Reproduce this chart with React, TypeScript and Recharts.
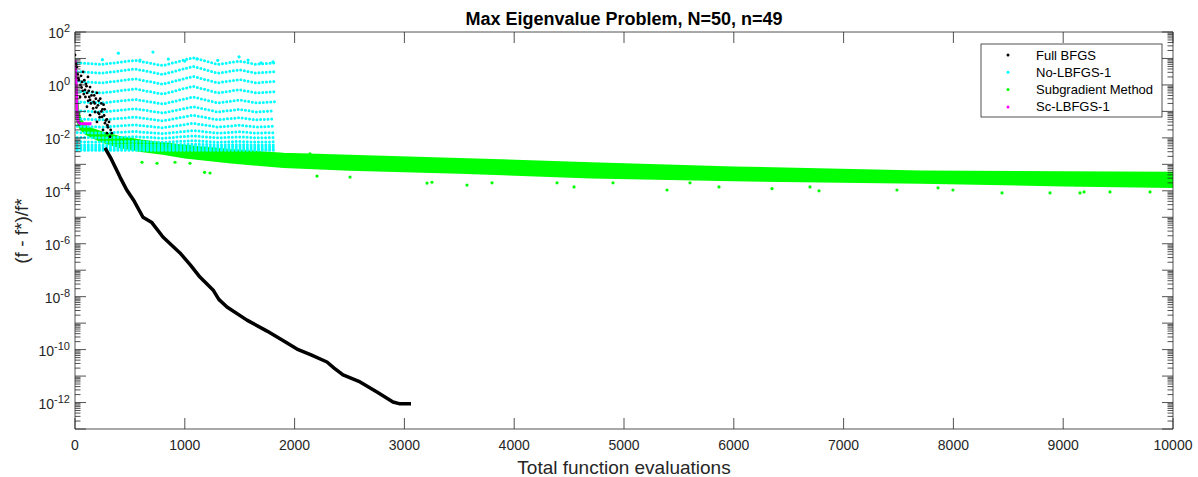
import { ComposedChart, Line, Area, Scatter, XAxis, YAxis } from "recharts";

// axis ticks
const xTicks = [0, 1000, 2000, 3000, 4000, 5000, 6000, 7000, 8000, 9000, 10000];
const yMajorTicks = [1e-13, 1e-12, 1e-11, 1e-10, 1e-9, 1e-8, 1e-7, 1e-6, 1e-5, 1e-4, 1e-3, 1e-2, 1e-1, 1, 10, 100];
const yLabelExps = [2, 0, -2, -4, -6, -8, -10, -12];
const minorSteps = [2, 3, 4, 5, 6, 7, 8, 9];
const yAllTicks = [
  ...yMajorTicks,
  ...yMajorTicks.slice(0, -1).flatMap((m) => minorSteps.map((s) => s * m)),
].sort((a, b) => a - b);

// Full BFGS: noisy start (dots) then the dense descending run
const bfgsDotsX = [0, 18, 73, 118, 64, 137, 200, 91, 46, 137, 209, 109, 182, 246, 137, 200, 273, 255, 291, 319, 30, 100, 160, 230, 250, 170, 80, 290, 220, 150, 60, 190, 120, 260, 300, 310,
  10, 25, 35, 50, 70, 95, 110, 130, 145, 165, 180, 195, 210, 225, 240, 265, 280, 295, 55, 85, 105, 125, 175, 215, 240, 270, 325, 335];
const bfgsDotsY = [13.5, 4.8, 3.1, 2.0, 1.3, 0.83, 0.5, 0.65, 0.35, 0.27, 0.17, 0.15, 0.095, 0.062, 0.072, 0.04, 0.036, 0.02, 0.015, 0.011, 1.8, 1.1, 0.55, 0.3, 0.12, 0.23, 0.45, 0.05, 0.08, 0.4, 0.8, 0.3, 0.25, 0.18, 0.025, 0.04,
  6, 2.5, 1.5, 1.0, 0.6, 0.35, 0.5, 0.35, 0.2, 0.13, 0.2, 0.14, 0.09, 0.06, 0.1, 0.07, 0.045, 0.03, 2.2, 1.5, 0.9, 0.6, 0.4, 0.25, 0.2, 0.12, 0.02, 0.015];
const bfgsX = [273, 330, 410, 470, 540, 619, 700, 801, 956, 1050, 1138, 1257, 1310, 1384, 1566, 1749, 1894, 2022, 2150, 2295, 2360, 2441, 2596, 2750, 2896, 2960, 3060];
const bfgsY = [4.2e-3, 1.6e-3, 3.3e-4, 1.1e-4, 4.0e-5, 1.0e-5, 6.3e-6, 1.8e-6, 4.5e-7, 1.6e-7, 5.5e-8, 1.8e-8, 7.9e-9, 4.1e-9, 1.3e-9, 5.0e-10, 2.2e-10, 1.05e-10, 6.3e-11, 3.4e-11, 2.0e-11, 1.1e-11, 6.0e-12, 2.5e-12, 1.05e-12, 8.9e-13, 8.9e-13];

// No-LBFGS-1: rows of dots
const cyanX = [20, 250, 546, 800, 1075, 1300, 1500, 1650, 1820];
const cyanRows = [
  [6.8, 6.0, 8.5, 5.4, 10.7, 6.0, 7.9, 6.0, 6.8],
  [3.2, 2.8, 4.0, 2.5, 5.0, 2.8, 3.7, 2.8, 3.2],
  [1.35, 1.2, 1.7, 1.07, 2.1, 1.2, 1.6, 1.2, 1.35],
  [0.56, 0.5, 0.71, 0.45, 0.89, 0.5, 0.66, 0.5, 0.56],
  [0.23, 0.21, 0.285, 0.19, 0.35, 0.21, 0.27, 0.21, 0.23],
  [0.105, 0.095, 0.126, 0.087, 0.151, 0.095, 0.12, 0.095, 0.105],
  [0.052, 0.048, 0.061, 0.044, 0.072, 0.048, 0.058, 0.048, 0.052],
  [0.0275, 0.0257, 0.031, 0.024, 0.0355, 0.0257, 0.03, 0.0257, 0.0275],
  [0.0158, 0.0151, 0.0174, 0.0145, 0.019, 0.0151, 0.017, 0.0151, 0.0158],
  [0.0104, 0.01, 0.0111, 0.0097, 0.0119, 0.01, 0.0109, 0.01, 0.0104],
  [0.0071, 0.0069, 0.0074, 0.0068, 0.0078, 0.0069, 0.0073, 0.0069, 0.0071],
  [0.0054, 0.0054, 0.0056, 0.0053, 0.0058, 0.0054, 0.0055, 0.0054, 0.0054],
  [0.0045, 0.0045, 0.0046, 0.0044, 0.0047, 0.0045, 0.0046, 0.0045, 0.0045],
  [0.0038, 0.0038, 0.0039, 0.0038, 0.0039, 0.0038, 0.0038, 0.0038, 0.0038],
  [0.0034, 0.0034, 0.0034, 0.0034, 0.0034, 0.0034, 0.0034, 0.0034, 0.0034],
];
const cyanTopX = [395, 710, 1111, 1494, 592, 1576, 1694, 1803, 250, 1000, 850, 1300];
const cyanTopY = [15.8, 17.4, 9.5, 11.5, 8.7, 8.7, 6.8, 7.4, 9, 8.0, 9.5, 8.5];

// Subgradient Method: dense band (low/high) plus stray dots
const gradX = [10, 30, 50, 100, 150, 250, 400, 600, 800, 1000, 1400, 1900, 2500, 3500, 4700, 6000, 7700, 9000, 10000];
const gradHigh = [1.0, 0.1, 0.05, 0.028, 0.022, 0.016, 0.011, 0.0079, 0.0063, 0.005, 0.0035, 0.0025, 0.0021, 0.0016, 0.0011, 0.00076, 0.00054, 0.0005, 0.00048];
const gradLow = [0.063, 0.032, 0.022, 0.014, 0.011, 0.0071, 0.0045, 0.0032, 0.0025, 0.0018, 0.0012, 0.00079, 0.00063, 0.00048, 0.00032, 0.00025, 0.0002, 0.00016, 0.00014];
const gradDotsX = [610, 747, 911, 1047, 1230, 1180, 2204, 2505, 3206, 3251, 3570, 3798, 4390, 4545, 4900, 5392, 5601, 5865, 6348, 6694, 6776, 7486, 7860, 7996, 8443, 8880, 9153, 9190, 9426, 9791, 2140];
const gradDotsY = [1.2e-3, 1.1e-3, 1.2e-3, 1.1e-3, 4.7e-4, 5e-4, 3.6e-4, 3.3e-4, 1.95e-4, 2.1e-4, 1.65e-4, 2.0e-4, 2.0e-4, 1.4e-4, 2.0e-4, 1.07e-4, 2.0e-4, 1.4e-4, 1.2e-4, 1.4e-4, 1.0e-4, 1.07e-4, 1.3e-4, 1.07e-4, 8.3e-5, 8.3e-5, 8.3e-5, 9.1e-5, 9.1e-5, 9.1e-5, 2.5e-3];

// Sc-LBFGS-1
const scX = [2, 5, 8, 11, 14, 17, 20, 24, 30, 45, 80, 120, 150];
const scY = [8.7, 5, 2, 1, 0.4, 0.15, 0.08, 0.05, 0.04, 0.035, 0.034, 0.034, 0.034];

const legendItems = [
  { name: "Full BFGS", color: "#000000" },
  { name: "No-LBFGS-1", color: "#00ffff" },
  { name: "Subgradient Method", color: "#00ff00" },
  { name: "Sc-LBFGS-1", color: "#ff00ff" },
];

const axisColor = "#262626";
const font = "'Liberation Sans', Arial, Helvetica, sans-serif";

const pts = (xs: number[], ys: number[]) => xs.map((x, i) => ({ x, y: ys[i] }));

const decade = (v: number) => {
  const l = Math.log10(v);
  const e = Math.round(l);
  return { e, major: Math.abs(l - e) < 1e-6 };
};

function LeftTick(props: any) {
  const { x, y, payload } = props;
  const { e, major } = decade(payload.value);
  const len = major ? 11 : 5.5;
  return (
    <g>
      <line x1={x} x2={x + len} y1={y} y2={y} stroke={axisColor} strokeWidth={0.8} />
      {major && yLabelExps.includes(e) && (
        <text x={x - 5} y={y + 6} textAnchor="end" fontSize={14} fill={axisColor} fontFamily={font}>
          <tspan>10</tspan>
          <tspan dy={-6} fontSize={11}>{e}</tspan>
        </text>
      )}
    </g>
  );
}

function RightTick(props: any) {
  const { x, y, payload } = props;
  const { major } = decade(payload.value);
  const len = major ? 11 : 5.5;
  return <line x1={x} x2={x - len} y1={y} y2={y} stroke={axisColor} strokeWidth={0.8} />;
}

function BottomTick(props: any) {
  const { x, y, payload } = props;
  return (
    <g>
      <line x1={x} x2={x} y1={y} y2={y - 11} stroke={axisColor} strokeWidth={0.8} />
      <text x={x} y={y + 21} textAnchor="middle" fontSize={14} fill={axisColor} fontFamily={font}>
        {payload.value}
      </text>
    </g>
  );
}

function TopTick(props: any) {
  const { x, y } = props;
  return <line x1={x} x2={x} y1={y} y2={y + 11} stroke={axisColor} strokeWidth={0.8} />;
}

const dot = (color: string, r: number) => (p: any) => <circle cx={p.cx} cy={p.cy} r={r} fill={color} />;

const axisLine = { stroke: axisColor, strokeWidth: 0.8 };

export default function App() {
  return (
    <div style={{ position: "fixed", left: 0, top: 0, width: 1198, height: 477, background: "#fff" }}>
      <ComposedChart width={1198} height={477} margin={{ top: 31, right: 24, bottom: 47, left: 74 }}>
        <XAxis
          xAxisId="b"
          dataKey="x"
          type="number"
          domain={[0, 10000]}
          ticks={xTicks}
          interval={0}
          height={1}
          tickSize={0}
          tickMargin={0}
          tickLine={false}
          axisLine={axisLine}
          tick={BottomTick}
          allowDataOverflow
        />
        <XAxis
          xAxisId="t"
          orientation="top"
          dataKey="x"
          type="number"
          domain={[0, 10000]}
          ticks={xTicks}
          interval={0}
          height={1}
          tickSize={0}
          tickMargin={0}
          tickLine={false}
          axisLine={axisLine}
          tick={TopTick}
          allowDataOverflow
        />
        <YAxis
          yAxisId="l"
          dataKey="y"
          type="number"
          scale="log"
          domain={[1e-13, 100]}
          ticks={yAllTicks}
          interval={0}
          width={1}
          tickSize={0}
          tickMargin={0}
          tickLine={false}
          axisLine={axisLine}
          tick={LeftTick}
          allowDataOverflow
        />
        <YAxis
          yAxisId="r"
          orientation="right"
          dataKey="y"
          type="number"
          scale="log"
          domain={[1e-13, 100]}
          ticks={yAllTicks}
          interval={0}
          width={1}
          tickSize={0}
          tickMargin={0}
          tickLine={false}
          axisLine={axisLine}
          tick={RightTick}
          allowDataOverflow
        />

        {cyanRows.map((row, i) => (
          <Line
            key={"c" + i}
            xAxisId="b"
            yAxisId="l"
            data={pts(cyanX, row)}
            dataKey="y"
            type="linear"
            stroke="#00ffff"
            strokeWidth={3}
            strokeDasharray="0 3.7"
            strokeLinecap="round"
            dot={false}
            isAnimationActive={false}
          />
        ))}
        <Scatter
          xAxisId="b"
          yAxisId="l"
          data={pts(cyanTopX, cyanTopY)}
          dataKey="y"
          fill="#00ffff"
          shape={dot("#00ffff", 1.6)}
          isAnimationActive={false}
        />

        <Area
          xAxisId="b"
          yAxisId="l"
          data={gradX.map((x, i) => ({ x, r: [gradLow[i], gradHigh[i]] }))}
          dataKey="r"
          type="linear"
          stroke="#00ff00"
          strokeWidth={2}
          fill="#00ff00"
          fillOpacity={1}
          dot={false}
          activeDot={false}
          isAnimationActive={false}
        />
        <Scatter
          xAxisId="b"
          yAxisId="l"
          data={pts(gradDotsX, gradDotsY)}
          dataKey="y"
          fill="#00ff00"
          shape={dot("#00ff00", 1.6)}
          isAnimationActive={false}
        />

        <Scatter
          xAxisId="b"
          yAxisId="l"
          data={pts(bfgsDotsX, bfgsDotsY)}
          dataKey="y"
          fill="#000"
          shape={dot("#000", 1.4)}
          isAnimationActive={false}
        />
        <Line
          xAxisId="b"
          yAxisId="l"
          data={pts(bfgsX, bfgsY)}
          dataKey="y"
          type="linear"
          stroke="#000"
          strokeWidth={3.5}
          strokeLinejoin="round"
          dot={false}
          isAnimationActive={false}
        />

        <Line
          xAxisId="b"
          yAxisId="l"
          data={pts(scX, scY)}
          dataKey="y"
          type="linear"
          stroke="#ff00ff"
          strokeWidth={3}
          dot={false}
          isAnimationActive={false}
        />
      </ComposedChart>

      <svg
        width={1198}
        height={477}
        style={{ position: "absolute", left: 0, top: 0, pointerEvents: "none" }}
        fontFamily={font}
      >
        <text x={624} y={25} textAnchor="middle" fontSize={18} fontWeight="bold" fill="#000">
          Max Eigenvalue Problem, N=50, n=49
        </text>
        <text x={624} y={474} textAnchor="middle" fontSize={19} fill={axisColor}>
          Total function evaluations
        </text>
        <text x={0} y={0} transform="translate(28 231) rotate(-90)" textAnchor="middle" fontSize={19} fill={axisColor}>
          (f - f*)/f*
        </text>

        <rect x={981} y={44} width={181} height={73} fill="#fff" stroke={axisColor} strokeWidth={0.8} />
        {legendItems.map((it, i) => (
          <g key={it.name}>
            <circle cx={1008} cy={55 + i * 17.3} r={1.5} fill={it.color} />
            <text x={1036} y={55 + i * 17.3 + 4.5} fontSize={13} fill="#000">
              {it.name}
            </text>
          </g>
        ))}
      </svg>
    </div>
  );
}
